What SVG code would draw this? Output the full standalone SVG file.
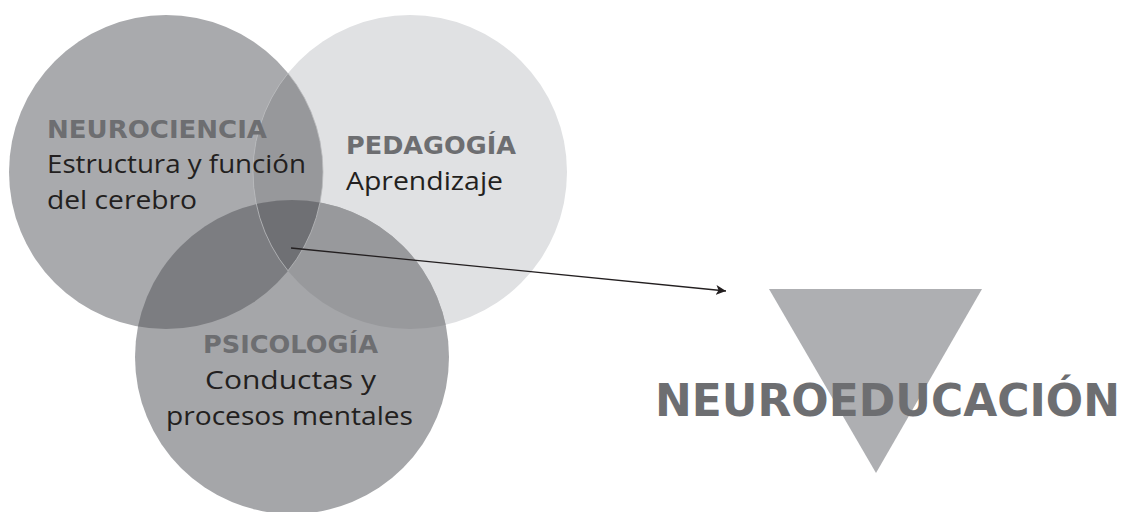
<svg xmlns="http://www.w3.org/2000/svg" width="1128" height="512" viewBox="0 0 1128 512">
<style>
.h{font-family:"DejaVu Sans","Open Sans",sans-serif;font-weight:700;fill:#6d6e71}
.b{font-family:"Open Sans","Noto Sans",sans-serif;font-weight:400;fill:#231f20}
.edge{fill:none;stroke:#b9babd;stroke-width:0.8}
</style>
<defs>
<clipPath id="cN"><circle cx="166" cy="172" r="157"/></clipPath>
<clipPath id="cP"><circle cx="410" cy="172" r="157"/></clipPath>
<clipPath id="cS"><circle cx="292" cy="357" r="157"/></clipPath>
<marker id="ah" viewBox="0 0 10 10" refX="10" refY="5" markerWidth="10" markerHeight="10" markerUnits="userSpaceOnUse" orient="auto"><path d="M0,0 L10,5 L0,10 L2.5,5 Z" fill="#231f20"/></marker>
</defs>
<rect width="1128" height="512" fill="#ffffff"/>
<g id="neurociencia">
<circle cx="166" cy="172" r="157" fill="#a9aaad"/>
</g>
<g id="pedagogia">
<circle cx="410" cy="172" r="157" fill="#e0e1e3"/>
<circle cx="410" cy="172" r="157" fill="#97989b" clip-path="url(#cN)"/>
</g>
<g id="psicologia">
<circle cx="292" cy="357" r="157" fill="#a5a6a9"/>
<g clip-path="url(#cS)">
<circle cx="166" cy="172" r="157" fill="#7c7d81"/>
<circle cx="410" cy="172" r="157" fill="#98999c"/>
<g clip-path="url(#cN)"><circle cx="410" cy="172" r="157" fill="#6f7074"/></g>
</g>
<circle cx="166" cy="172" r="157" class="edge" clip-path="url(#cP)"/>
<circle cx="410" cy="172" r="157" class="edge" clip-path="url(#cN)"/>
</g>
<g id="labels">
<text class="h" x="47" y="138" font-size="24" textLength="220" lengthAdjust="spacingAndGlyphs">NEUROCIENCIA</text>
<text class="b" x="47" y="173" font-size="25.5" textLength="259" lengthAdjust="spacingAndGlyphs">Estructura y función</text>
<text class="b" x="47" y="209" font-size="25.5" textLength="150" lengthAdjust="spacingAndGlyphs">del cerebro</text>
<text class="h" x="346" y="154" font-size="24" textLength="170" lengthAdjust="spacingAndGlyphs">PEDAGOGÍA</text>
<text class="b" x="346" y="190" font-size="25.5" textLength="157" lengthAdjust="spacingAndGlyphs">Aprendizaje</text>
<text class="h" x="203" y="353" font-size="24" textLength="175" lengthAdjust="spacingAndGlyphs">PSICOLOGÍA</text>
<text class="b" x="205" y="389" font-size="25.5" textLength="171" lengthAdjust="spacingAndGlyphs">Conductas y</text>
<text class="b" x="166" y="425" font-size="25.5" textLength="247" lengthAdjust="spacingAndGlyphs">procesos mentales</text>
</g>
<g id="connectors">
<line x1="291" y1="248" x2="726" y2="291" stroke="#231f20" stroke-width="1.3" marker-end="url(#ah)"/>
</g>
<g id="neuroeducacion">
<polygon points="769,289 982,289 876,473" fill="#aeafb2"/>
<text class="h" x="655" y="416" font-size="45" textLength="465" lengthAdjust="spacingAndGlyphs">NEUROEDUCACIÓN</text>
</g>
</svg>
